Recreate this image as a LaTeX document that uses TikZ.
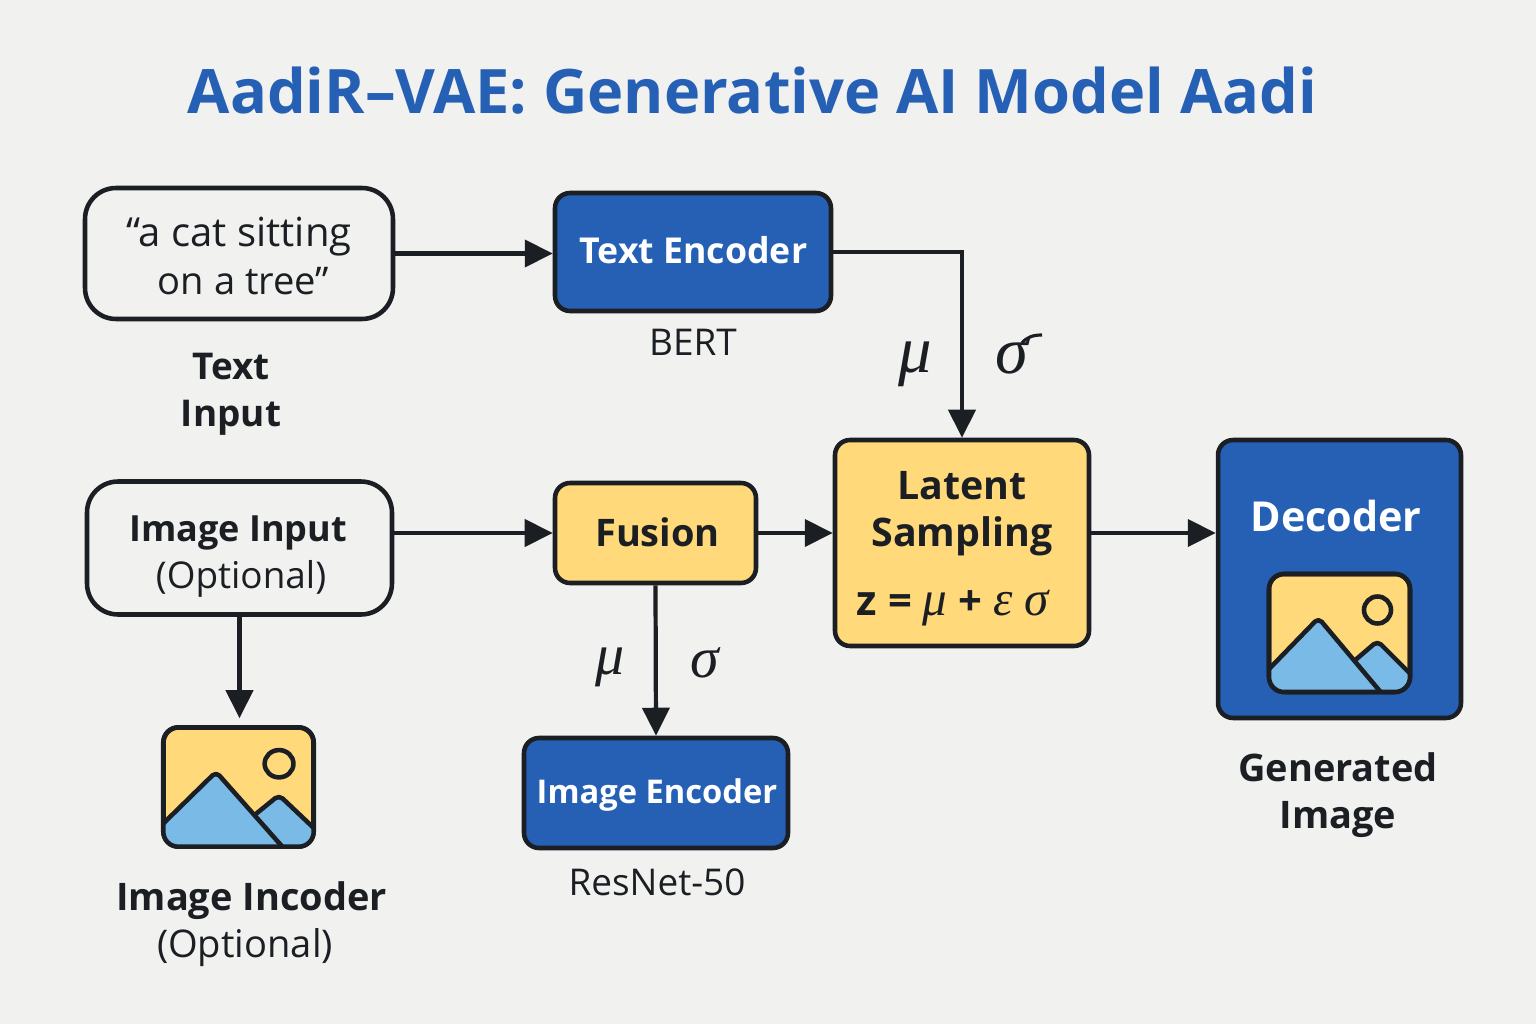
\documentclass[tikz,border=0pt]{standalone}
\usepackage{fontspec}
\setmainfont{Open Sans}
\newfontfamily\greekfont{Liberation Serif}
\usetikzlibrary{arrows.meta}
\definecolor{pagebg}{HTML}{F1F1EF}
\definecolor{inkdark}{HTML}{1B1F24}
\definecolor{boxblue}{HTML}{2560B5}
\definecolor{boxyellow}{HTML}{FFD97A}
\definecolor{skyblue}{HTML}{79BBE6}
\tikzset{
    basebox/.style={draw=inkdark,line width=2.6pt,inner sep=0pt,align=center},
    inputbox/.style={basebox,fill=pagebg,rounded corners=0.62cm},
    bluebox/.style={basebox,fill=boxblue,rounded corners=0.3cm},
    yellowbox/.style={basebox,fill=boxyellow,rounded corners=0.3cm},
    iconbox/.style={basebox,rounded corners=0.3cm,fill=boxyellow},
    flowarrow/.style={-{Triangle[length=0.56cm,width=0.54cm]},draw=inkdark,line width=2.4pt},
    boldlabel/.style={text=inkdark,align=center,font=\fontsize{21.6}{26.8}\selectfont\bfseries},
    plainlabel/.style={text=inkdark,align=center,font=\fontsize{21}{26.8}\selectfont},
    whitelabel/.style={text=white,font=\fontsize{20.3}{24}\selectfont\bfseries},
    greeklabel/.style={text=inkdark,font=\fontsize{38}{38}\selectfont\greekfont\itshape},
    mountains/.pic={
        \begin{scope}
            \clip[rounded corners=0.3cm] (-70.5,-59) rectangle (70.5,59);
            \draw[fill=skyblue,line width=2.6pt,draw=inkdark,line join=round,rounded corners=0.1cm] (10,32) -- (38,8) -- (80,50) -- (80,72) -- (50,72) -- cycle;
            \draw[fill=skyblue,line width=2.6pt,draw=inkdark,line join=round,rounded corners=0.1cm] (52,72) -- (-21,-15) -- (-84,50) -- (-84,72) -- cycle;
        \end{scope}
        \draw[draw=inkdark,line width=2.6pt] (38,-23) circle (13.5);
        \draw[draw=inkdark,line width=2.6pt,rounded corners=0.3cm] (-70.5,-59) rectangle (70.5,59);
    }
}
\begin{document}
\begin{tikzpicture}[x=0.02cm,y=-0.02cm]
    \fill[pagebg] (0,0) rectangle (1536,1024);
    \useasboundingbox (0,0) rectangle (1536,1024);

    \node[text=boxblue,font=\fontsize{34.9}{35}\selectfont\bfseries] (title) at (752.5,91) {AadiR–VAE: Generative AI Model Aadi};

    \node[inputbox,minimum width=6.16cm,minimum height=2.62cm] (textin) at (239,253.5) {};
    \node[plainlabel,font=\fontsize{22.8}{26.8}\selectfont] (quote) at (239,256) {“a cat sitting\\\hspace*{0.18cm}{\fontsize{21.7}{26.8}\selectfont on a tree”}};
    \node[bluebox,minimum width=5.52cm,minimum height=2.36cm] (textenc) at (693,252) {};
    \node[whitelabel] (textenclabel) at (693.5,250) {Text Encoder};
    \node[plainlabel] (bert) at (693,342) {BERT};
    \node[boldlabel,font=\fontsize{21}{26.8}\selectfont\bfseries] (textlabel) at (231,394) {Text\\Input};

    \node[inputbox,minimum width=6.1cm,minimum height=2.66cm] (imgin) at (239.5,548) {};
    \node[plainlabel] (imginlabel) at (241,557) {\hspace*{-0.12cm}{\fontsize{20.5}{26.8}\selectfont\bfseries Image Input}\\(Optional)};
    \node[yellowbox,minimum width=4.02cm,minimum height=2.0cm] (fusion) at (655.5,533) {};
    \node[boldlabel] (fusionlabel) at (657.5,532) {Fusion};
    \node[yellowbox,minimum width=5.08cm,minimum height=4.12cm] (latent) at (962,543) {};
    \node[boldlabel,font=\fontsize{22.4}{26.8}\selectfont\bfseries] (latentlabel) at (962,514) {Latent\\Sampling};
    \node[text=inkdark,font=\fontsize{23.8}{26}\selectfont\bfseries] (formula) at (953,608) {z = {\greekfont\mdseries\itshape\fontsize{28}{26}\selectfont μ} + {\greekfont\mdseries\itshape\fontsize{28}{26}\selectfont ε σ}};

    \node[bluebox,minimum width=4.86cm,minimum height=5.56cm] (decoder) at (1339.5,579) {};
    \node[whitelabel,font=\fontsize{23.5}{26}\selectfont\bfseries] (decoderlabel) at (1336,516) {Decoder};
    \node[iconbox,minimum width=2.82cm,minimum height=2.36cm] (iconout) at (1339.5,633) {};
    \pic at (iconout) {mountains};
    \node[boldlabel] (outlabel) at (1338,795.5) {Generated\\Image};

    \node[bluebox,minimum width=5.28cm,minimum height=2.2cm] (imgenc) at (656,793) {};
    \node[whitelabel,font=\fontsize{18.6}{24}\selectfont\bfseries] (imgenclabel) at (657,795) {Image Encoder};
    \node[plainlabel] (resnet) at (657,882) {ResNet-50};

    \node[iconbox,minimum width=3.0cm,minimum height=2.38cm] (iconin) at (238.5,787) {};
    \pic[xscale=1.067,yscale=1.012] at (iconin) {mountains};
    \node[boldlabel] (inlabel) at (251.5,901) {Image Incoder};
    \node[plainlabel,font=\fontsize{21.7}{26.8}\selectfont] (inoptional) at (245,948) {(Optional)};

    \node[greeklabel] (mutop) at (915,364) {μ};
    \node[greeklabel] (sigmatop) at (1012,357) {σ};
    \draw[inkdark,line width=1.8pt] (1022,343) .. controls (1027,337) and (1033,335) .. (1042,335);
    \node[greeklabel,font=\fontsize{33}{33}\selectfont\greekfont\itshape] (mubottom) at (610,667) {μ};
    \node[greeklabel,font=\fontsize{33}{33}\selectfont\greekfont\itshape] (sigmabottom) at (705,663) {σ};

    \draw[flowarrow] (textin.east) -- (textin.east -| textenc.west);
    \draw[flowarrow] (textenc.east) -| (latent.north);
    \draw[flowarrow] (imgin.east |- fusion.west) -- (fusion.west);
    \draw[flowarrow] (fusion.east) -- (fusion.east -| latent.west);
    \draw[flowarrow] (latent.east |- fusion.east) -- (decoder.west |- fusion.east);
    \draw[flowarrow] (fusion.south) -- (imgenc.north);
    \draw[flowarrow,shorten >=0.14cm] (imgin.south) -- (imgin.south |- iconin.north);
\end{tikzpicture}
\end{document}
